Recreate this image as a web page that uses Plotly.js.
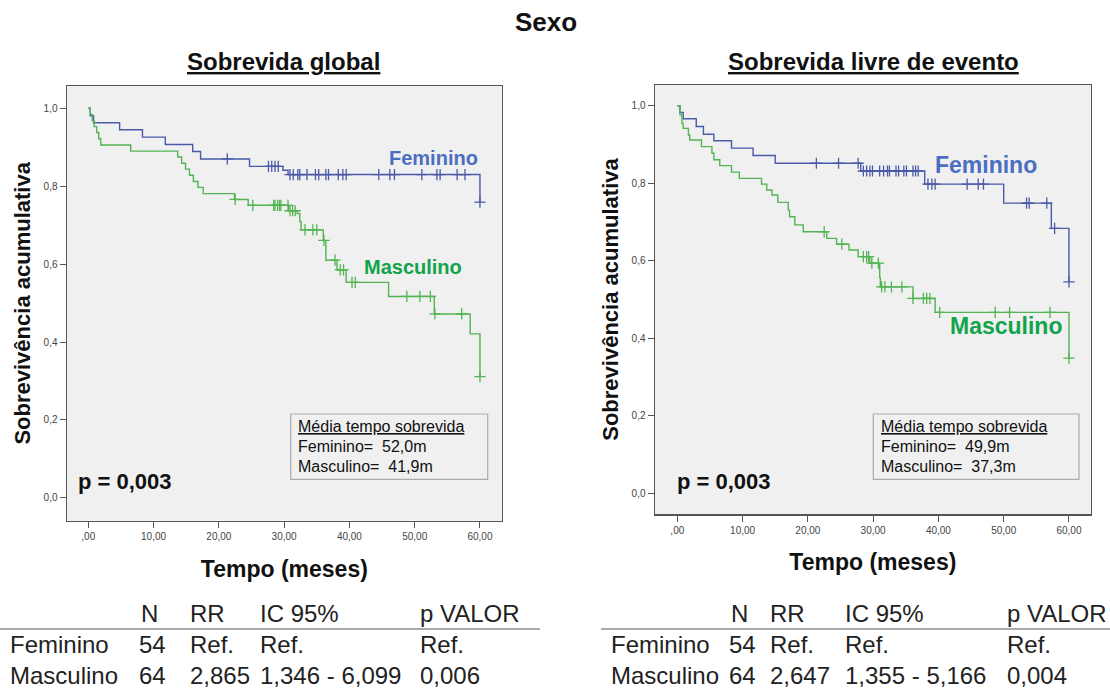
<!DOCTYPE html>
<html><head><meta charset="utf-8">
<script src="https://cdn.plot.ly/plotly-3.0.1.min.js"></script>
<style>html,body{margin:0;padding:0;background:#fff}#chart{width:1110px;height:691px}</style>
</head><body><div id="chart"></div>
<script>
// ---------- DATA ----------
// Sobrevida global (overall survival)
const ogFemT = [0, 0.3, 0.8, 4.8, 8.3, 11.8, 16.0, 17.2, 24.7, 29.8, 30.6, 60.0];
const ogFemS = [1.0, 0.981, 0.963, 0.945, 0.926, 0.907, 0.889, 0.870, 0.851, 0.841, 0.830, 0.759];
const ogFemCensor = [21.3, 27.6, 28.1, 28.6, 29.1, 30.9, 31.4, 32.1, 32.4, 33.5, 34.8, 35.3, 36.4, 36.8, 38.3, 39.0, 39.5, 44.5, 46.2, 46.9, 51.1, 53.4, 53.9, 56.5, 57.7, 60.0];
const ogMasT = [0, 0.3, 0.6, 0.9, 1.3, 1.6, 1.9, 6.5, 13.7, 14.3, 14.9, 15.5, 16.1, 16.8, 17.6, 22.4, 24.5, 30.7, 32.0, 32.4, 32.6, 36.0, 36.4, 38.1, 39.5, 46.0, 53.0, 58.5, 60.0];
const ogMasS = [1.0, 0.984, 0.969, 0.953, 0.938, 0.922, 0.906, 0.890, 0.875, 0.859, 0.844, 0.828, 0.812, 0.797, 0.781, 0.766, 0.751, 0.737, 0.730, 0.709, 0.688, 0.661, 0.610, 0.585, 0.553, 0.517, 0.472, 0.421, 0.311];
const ogMasCensor = [22.5, 25.2, 28.4, 28.6, 29.0, 29.3, 29.5, 30.6, 30.9, 31.3, 31.7, 33.2, 34.4, 35.0, 36.1, 37.8, 38.6, 39.1, 40.4, 40.9, 48.8, 50.8, 52.4, 53.1, 57.2, 60.0];
// Sobrevida livre de evento (event-free survival)
const lfFemT = [0, 0.4, 0.9, 2.9, 4.0, 5.6, 8.3, 11.6, 15.0, 28.1, 37.9, 50.0, 57.3, 60.0];
const lfFemS = [1.0, 0.983, 0.967, 0.947, 0.927, 0.910, 0.891, 0.872, 0.852, 0.832, 0.798, 0.749, 0.684, 0.546];
const lfFemCensor = [21.3, 24.7, 27.7, 28.5, 29.0, 29.5, 29.9, 31.0, 31.6, 32.2, 32.5, 33.5, 33.9, 34.7, 35.1, 36.1, 36.5, 36.9, 38.4, 39.0, 39.5, 44.4, 46.1, 46.9, 53.5, 53.9, 56.6, 57.8, 60.0];
const lfMasT = [0, 0.4, 0.7, 0.9, 1.7, 1.9, 3.7, 5.3, 5.6, 6.5, 8.3, 9.5, 12.9, 13.7, 14.5, 15.4, 17.0, 17.2, 18.0, 19.3, 22.9, 24.4, 26.3, 27.7, 29.5, 31.0, 31.1, 36.1, 39.5, 60.0];
const lfMasS = [1.0, 0.977, 0.955, 0.942, 0.925, 0.912, 0.895, 0.878, 0.861, 0.846, 0.829, 0.813, 0.798, 0.783, 0.770, 0.751, 0.731, 0.714, 0.693, 0.675, 0.658, 0.643, 0.628, 0.611, 0.594, 0.557, 0.533, 0.503, 0.467, 0.349];
const lfMasCensor = [22.5, 25.2, 28.5, 29.0, 29.3, 29.8, 30.8, 31.3, 31.8, 32.8, 34.4, 36.1, 37.7, 38.2, 38.7, 40.2, 48.7, 50.9, 57.1, 60.0];

const xTickVals = [0, 10, 20, 30, 40, 50, 60];
const xTickText = [",00", "10,00", "20,00", "30,00", "40,00", "50,00", "60,00"];
const yTickVals = [0, 0.2, 0.4, 0.6, 0.8, 1.0];
const yTickText = ["0,0", "0,2", "0,4", "0,6", "0,8", "1,0"];

const groups = ["Feminino", "Masculino"];
const meanOG = ["52,0m", "41,9m"];
const meanLF = ["49,9m", "37,3m"];
const pLogrank = ["0,003", "0,003"];
const tableHeader = ["N", "RR", "IC 95%", "p VALOR"];
const tableN = ["54", "64"];
const ogRR = ["Ref.", "2,865"], ogIC = ["Ref.", "1,346 - 6,099"], ogP = ["Ref.", "0,006"];
const lfRR = ["Ref.", "2,647"], lfIC = ["Ref.", "1,355 - 5,166"], lfP = ["Ref.", "0,004"];

// ---------- STYLE ----------
const W = 1110, H = 691;
const BLUE = "#4a5aa8", GREEN = "#52b452";
const BLUE_TXT = "#4a6fc2", GREEN_TXT = "#12a34c";
const FONT = "Liberation Sans, Arial, sans-serif";
const px = v => v / W, py = v => 1 - v / H;

function survAt(T, S, t) { let s = S[0]; for (let i = 0; i < T.length; i++) if (T[i] <= t) s = S[i]; return s; }

function curve(T, S, C, color, xa, ya) {
  return [
    { x: T, y: S, type: "scatter", mode: "lines", line: { shape: "hv", color: color, width: 1.4 }, xaxis: xa, yaxis: ya, hoverinfo: "skip" },
    { x: C, y: C.map(t => survAt(T, S, t)), type: "scatter", mode: "markers", xaxis: xa, yaxis: ya, hoverinfo: "skip",
      marker: { symbol: "cross-thin-open", size: 8, color: color, line: { color: color, width: 1.3 } } }
  ];
}

const data = [].concat(
  curve(ogFemT, ogFemS, ogFemCensor, BLUE, "x", "y"),
  curve(ogMasT, ogMasS, ogMasCensor, GREEN, "x", "y"),
  curve(lfFemT, lfFemS, lfFemCensor, BLUE, "x2", "y2"),
  curve(lfMasT, lfMasS, lfMasCensor, GREEN, "x2", "y2")
);

function xAxis(domain, range, anchor) {
  return {
    domain: domain, range: range, anchor: anchor, tickvals: xTickVals, ticktext: xTickText,
    ticks: "outside", ticklen: 6, tickcolor: "#555", tickwidth: 1, showline: true, mirror: true,
    linecolor: "#555", linewidth: 1.5, showgrid: false, zeroline: false, automargin: false,
    tickfont: { family: FONT, size: 10, color: "#444" },
    title: { text: "<b>Tempo (meses)</b>", font: { family: FONT, size: 23, color: "#111" }, standoff: 19 }
  };
}
function yAxis(domain, range, anchor) {
  return {
    domain: domain, range: range, anchor: anchor, tickvals: yTickVals, ticktext: yTickText,
    ticks: "outside", ticklen: 6, tickcolor: "#555", tickwidth: 1, showline: true, mirror: true,
    linecolor: "#555", linewidth: 1.5, showgrid: false, zeroline: false, automargin: false,
    tickfont: { family: FONT, size: 10, color: "#444" },
    title: { text: "<b>Sobrevivência acumulativa</b>", font: { family: FONT, size: 22, color: "#111" }, standoff: 7 }
  };
}

const ann = [];
function txt(text, x, y, size, opts) {
  ann.push(Object.assign({ text: text, x: px(x), y: py(y), xref: "paper", yref: "paper", showarrow: false,
    xanchor: "left", yanchor: "middle", font: { family: FONT, size: size, color: "#111" } }, opts || {}));
}
// titles
txt("<b>Sexo</b>", 545.5, 22, 26, { xanchor: "center" });
txt("<b><u>Sobrevida global</u></b>", 283, 61, 24, { xanchor: "center" });
txt("<b><u>Sobrevida livre de evento</u></b>", 873.5, 61, 24, { xanchor: "center" });
// curve labels
txt("<b>" + groups[0] + "</b>", 433, 158, 20, { xanchor: "center", font: { family: FONT, size: 20, color: BLUE_TXT } });
txt("<b>" + groups[1] + "</b>", 413, 267, 20, { xanchor: "center", font: { family: FONT, size: 20, color: GREEN_TXT } });
txt("<b>" + groups[0] + "</b>", 986, 165, 23, { xanchor: "center", font: { family: FONT, size: 23, color: BLUE_TXT } });
txt("<b>" + groups[1] + "</b>", 1006, 326, 23, { xanchor: "center", font: { family: FONT, size: 23, color: GREEN_TXT } });
// mean boxes
const mfont = { family: FONT, size: 16, color: "#111" };
const SP = "\u00a0\u00a0";
txt("<u>Média tempo sobrevida</u>", 296, 427, 16, { font: mfont });
txt(groups[0] + "=" + SP + meanOG[0], 296, 447, 16, { font: mfont });
txt(groups[1] + "=" + SP + meanOG[1], 296, 466, 16, { font: mfont });
txt("<u>Média tempo sobrevida</u>", 879, 427, 16, { font: mfont });
txt(groups[0] + "=" + SP + meanLF[0], 879, 447, 16, { font: mfont });
txt(groups[1] + "=" + SP + meanLF[1], 879, 466, 16, { font: mfont });
// p values
txt("<b>p = " + pLogrank[0] + "</b>", 76, 482, 22);
txt("<b>p = " + pLogrank[1] + "</b>", 675, 482, 22);
// tables
function table(x0, cols, RR, IC, P) {
  const f = { family: FONT, size: 24, color: "#222" };
  tableHeader.forEach((h, i) => txt(h, cols[i] + (i === 0 ? 2 : 0), 613, 24, { font: f }));
  groups.forEach((g, r) => {
    const y = 644 + r * 31;
    txt(g, x0, y, 24, { font: f });
    txt(tableN[r], cols[0], y, 24, { font: f });
    txt(RR[r], cols[1], y, 24, { font: f });
    txt(IC[r], cols[2], y, 24, { font: f });
    txt(P[r], cols[3], y, 24, { font: f });
  });
}
table(8, [137, 188, 258, 418], ogRR, ogIC, ogP);
table(609, [727, 768, 843, 1005], lfRR, lfIC, lfP);

const shapes = [
  { type: "rect", xref: "paper", yref: "paper", x0: px(290.7), x1: px(487.7), y0: py(414), y1: py(479.3), line: { color: "#aaa", width: 1.2 } },
  { type: "rect", xref: "paper", yref: "paper", x0: px(873.3), x1: px(1079), y0: py(414), y1: py(479.3), line: { color: "#aaa", width: 1.2 } },
  { type: "line", xref: "paper", yref: "paper", x0: 0, x1: px(540), y0: py(629), y1: py(629), line: { color: "#555", width: 1.2 } },
  { type: "line", xref: "paper", yref: "paper", x0: px(601), x1: 1, y0: py(629), y1: py(629), line: { color: "#555", width: 1.2 } }
];

const layout = {
  width: W, height: H, margin: { l: 0, r: 0, t: 0, b: 0 },
  paper_bgcolor: "#fff", plot_bgcolor: "#f0f0f0", showlegend: false,
  xaxis: xAxis([67 / W, 501.7 / W], [-3.26, 63.33], "y"),
  yaxis: yAxis([1 - 520.7 / H, 1 - 86 / H], [-0.0588, 1.0573], "x"),
  xaxis2: xAxis([655 / W, 1090.7 / W], [-3.42, 63.33], "y2"),
  yaxis2: yAxis([1 - 514 / H, 1 - 85 / H], [-0.0534, 1.054], "x2"),
  annotations: ann, shapes: shapes
};
Plotly.newPlot("chart", data, layout, { displayModeBar: false, staticPlot: true });
</script></body></html>
